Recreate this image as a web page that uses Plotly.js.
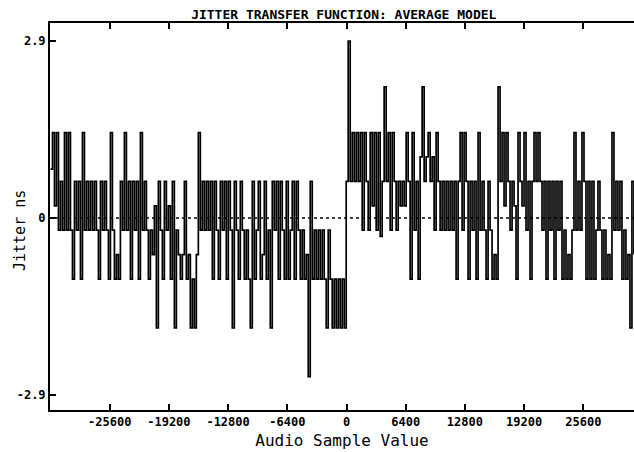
<!DOCTYPE html>
<html>
<head>
<meta charset="utf-8">
<script src="https://cdn.plot.ly/plotly-3.0.1.min.js"></script>
<style>html,body{margin:0;padding:0;background:#fff;}#chart{width:634px;height:452px;}</style>
</head>
<body>
<div id="chart"></div>
<script>
// Audio sample grid (first sample value and spacing between plotted samples)
const SAMPLE_START = -32000;
const SAMPLE_STEP = 216;

// Jitter (ns), one value per plotted sample
const jitterNs = [
  0.8, 1.4, 0.2, 1.4, -0.2, 0.6, -0.2, 1.4, -0.2, 1.4,
  -0.2, -1.0, 0.6, -0.2, 0.6, -1.0, 1.4, -0.2, 0.6, -0.2,
  0.6, -0.2, 0.6, -0.2, -1.0, 0.6, -0.2, 0.6, -0.2, -1.0,
  1.4, -0.2, -1.0, -0.6, -1.0, 0.6, -0.2, 1.4, -0.2, 0.6,
  -1.0, 0.6, -0.2, 0.6, -1.0, 1.4, -0.2, 0.6, -0.2, -1.0,
  -0.2, -0.6, 0.2, -1.8, 0.6, -0.2, -1.0, 0.6, -0.2, 0.2,
  -1.0, 0.6, -1.8, -0.2, -0.6, -1.0, -0.6, 0.6, -1.0, -0.6,
  -1.8, -1.0, -1.8, -0.6, 1.4, -0.2, 0.6, -0.2, 0.6, -0.2,
  0.6, -1.0, 0.6, -0.2, -1.0, 0.6, -0.2, 0.6, -1.0, 0.6,
  -0.2, -1.8, 0.6, -0.2, -1.0, 0.6, -0.2, -1.0, -0.2, -1.0,
  -1.8, 0.6, -1.0, -0.2, 0.6, -1.0, -0.6, 0.6, -1.0, -0.2,
  -1.8, 0.6, -0.2, 0.6, -1.0, 0.6, -0.2, -1.0, 0.6, -1.0,
  -0.2, 0.6, -1.0, 0.6, -0.2, -1.0, -0.2, -1.0, -0.6, -2.6,
  0.6, -1.0, -0.2, -1.0, -0.2, -1.0, -0.2, -1.0, -1.8, -0.2,
  -1.0, -1.8, -1.0, -1.8, -1.0, -1.8, -1.0, -1.8, 0.6, 2.9,
  0.6, 1.4, 0.6, 1.4, 0.6, 1.4, -0.2, 1.4, 0.6, -0.2,
  1.4, 0.2, 1.4, -0.2, 1.4, -0.3, 0.6, 2.15, 0.6, 1.4,
  -0.2, 1.4, 0.6, -0.2, 0.6, 0.2, 0.6, 0.2, 1.4, 0.6,
  -1.0, 1.4, -0.2, 0.6, -1.0, 1.0, 2.15, 0.6, 1.0, 1.4,
  0.6, 1.0, -0.2, 1.4, 0.6, -0.2, 0.6, -0.2, 0.6, -0.2,
  0.6, -0.2, 0.6, -1.0, 0.6, 1.4, -0.2, 1.4, 0.6, -1.0,
  0.6, -0.2, 0.6, -1.0, 1.4, -0.2, 0.6, -0.2, -1.0, 0.6,
  -0.2, -1.0, -0.6, -1.0, 2.15, 0.6, 1.4, 0.2, 1.4, 0.6,
  -0.2, 0.6, 0.2, -1.0, 1.4, 0.6, 0.2, 1.4, -0.2, 0.6,
  -1.0, 0.6, 1.4, 0.6, 1.4, 0.6, -0.2, 0.6, -1.0, 0.6,
  -0.2, 0.6, -1.0, 0.6, -0.2, 0.6, -1.0, -0.2, -1.0, -0.6,
  -1.0, -0.2, 1.4, -0.2, 0.6, -0.2, 1.4, 0.6, -1.0, 0.6,
  -1.0, 0.6, -1.0, -0.2, 0.6, -0.2, -1.0, -0.2, -1.0, -0.6,
  -1.0, 1.4, -0.2, 0.6, -0.2, 0.6, -1.0, -0.2, -1.0, -0.6,
  -1.8, 0.6, -0.6
];

// Axis ticks
const xTickVals = [-25600, -19200, -12800, -6400, 0, 6400, 12800, 19200, 25600];
const xTickText = ["-25600", "-19200", "-12800", "-6400", "0", "6400", "12800", "19200", "25600"];
const yTickVals = [-2.9, 0, 2.9];
const yTickText = ["-2.9", "0", "2.9"];

const sampleValues = jitterNs.map((_, i) => SAMPLE_START + i * SAMPLE_STEP);

const FONT = "DejaVu Sans Mono, monospace";

Plotly.newPlot("chart", [{
  x: sampleValues,
  y: jitterNs,
  type: "scatter",
  mode: "lines",
  line: {color: "#000", width: 1.7, shape: "hv"},
  hoverinfo: "skip"
}], {
  width: 634,
  height: 452,
  margin: {l: 50, r: 0, t: 23, b: 42},
  paper_bgcolor: "#fff",
  plot_bgcolor: "#fff",
  showlegend: false,
  title: {
    text: "JITTER TRANSFER FUNCTION: AVERAGE MODEL",
    font: {family: FONT, size: 13, color: "#000", weight: "bold"},
    xref: "paper", x: 0.503, xanchor: "center",
    yref: "container", y: 0.969, yanchor: "middle"
  },
  xaxis: {
    range: [-32052, 31079],
    tickvals: xTickVals,
    ticktext: xTickText,
    ticks: "inside",
    ticklen: 6,
    tickwidth: 2,
    tickcolor: "#000",
    showline: true,
    linecolor: "#000",
    linewidth: 2,
    mirror: "ticks",
    showgrid: false,
    zeroline: false,
    tickfont: {family: FONT, size: 12, color: "#000", weight: "bold"},
    title: {text: "Audio Sample Value", font: {family: FONT, size: 16, color: "#000"}, standoff: 6}
  },
  yaxis: {
    range: [-3.146, 3.195],
    tickvals: yTickVals,
    ticktext: yTickText,
    ticks: "inside",
    ticklen: 6,
    tickwidth: 2,
    tickcolor: "#000",
    showline: true,
    linecolor: "#000",
    linewidth: 2,
    showgrid: false,
    zeroline: false,
    tickfont: {family: FONT, size: 12, color: "#000", weight: "bold"}
  },
  annotations: [{
    text: "Jitter ns",
    textangle: -90,
    xref: "paper", x: -0.0514, xanchor: "center",
    yref: "paper", y: 0.465, yanchor: "middle",
    showarrow: false,
    font: {family: FONT, size: 15, color: "#000"}
  }],
  shapes: [{
    type: "line", xref: "paper", x0: 0, x1: 1, yref: "y", y0: 0, y1: 0,
    line: {color: "#000", width: 1.3, dash: "3px,3px"}, layer: "below"
  }]
}, {displayModeBar: false, staticPlot: true});
</script>
</body>
</html>
